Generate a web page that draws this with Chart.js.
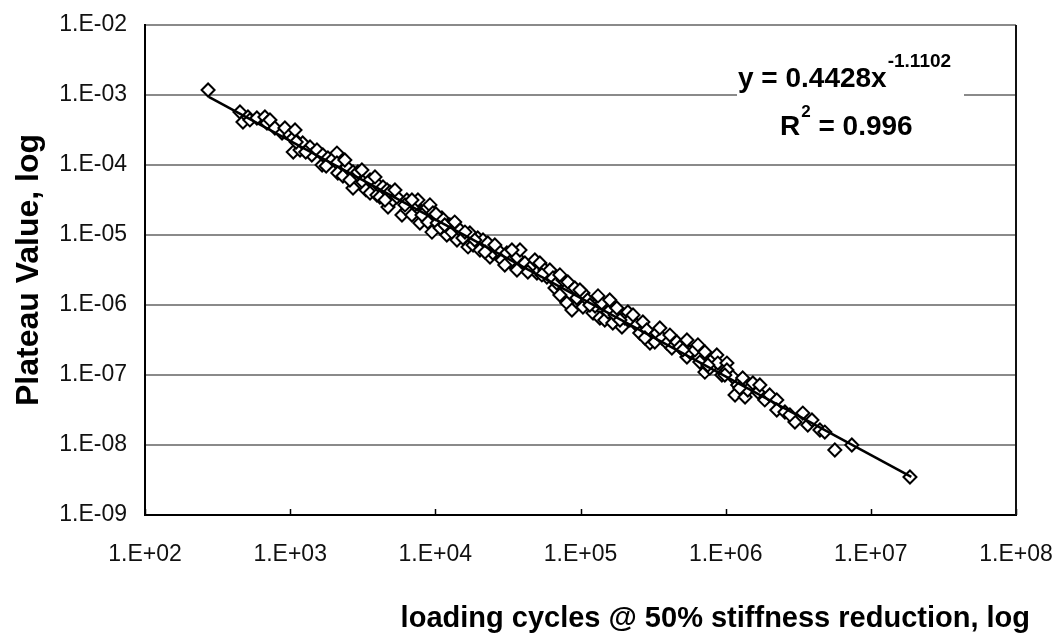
<!DOCTYPE html>
<html>
<head>
<meta charset="utf-8">
<script src="https://cdn.jsdelivr.net/npm/chart.js@4.4.1/dist/chart.umd.min.js"></script>
<style>
  html, body { margin: 0; padding: 0; background: #fff; }
  #wrap { width: 1062px; height: 642px; position: relative; }
</style>
</head>
<body>
<div id="wrap"><canvas id="c" width="1062" height="642"></canvas></div>
<script>
// ---- data ----
const cycles = [
  272, 451, 473, 512, 528, 590, 670, 692, 726, 785, 879, 920, 997, 1050, 1050, 1080,
  1170, 1220, 1370, 1410, 1530, 1660, 1680, 1820, 1940, 2100, 2100, 2130, 2310, 2460,
  2710, 2710, 2930, 3120, 3170, 3330, 3550, 3550, 3960, 4030, 4150, 4360, 4650, 4720,
  4870, 5110, 5440, 5890, 6370, 6370, 6900, 7240, 7590, 7830, 8480, 8890, 9180, 9480,
  9620, 1.03e4, 1.08e4, 1.11e4, 1.20e4, 1.26e4, 1.30e4, 1.41e4, 1.48e4, 1.55e4, 1.68e4,
  1.73e4, 1.82e4, 1.96e4, 2.03e4, 2.13e4, 2.30e4, 2.38e4, 2.49e4, 2.70e4, 2.88e4, 3.11e4,
  3.27e4, 3.65e4, 3.65e4, 3.83e4, 4.14e4, 4.49e4, 4.85e4, 5.01e4, 5.25e4, 5.69e4, 5.87e4,
  6.15e4, 6.46e4, 6.67e4, 6.87e4, 7.21e4, 7.57e4, 8.05e4, 8.18e4, 8.73e4, 9.14e4, 9.44e4,
  1.04e5, 1.04e5, 1.12e5, 1.22e5, 1.26e5, 1.36e5, 1.40e5, 1.47e5, 1.55e5, 1.67e5, 1.73e5,
  1.78e5, 1.93e5, 2.02e5, 2.12e5, 2.19e5, 2.44e5, 2.56e5, 2.69e5, 2.86e5, 3.01e5, 3.25e5,
  3.36e5, 3.64e5, 3.94e5, 4.26e5, 4.61e5, 4.84e5, 5.41e5, 5.41e5, 5.66e5, 6.14e5, 6.64e5,
  7.19e5, 7.19e5, 7.78e5, 8.04e5, 8.69e5, 8.83e5, 9.42e5, 1.02e6, 1.02e6, 1.12e6, 1.16e6,
  1.21e6, 1.31e6, 1.36e6, 1.42e6, 1.54e6, 1.67e6, 1.86e6, 2.01e6, 2.25e6, 2.25e6, 2.56e6,
  3.00e6, 3.40e6, 3.68e6, 3.93e6, 4.46e6, 5.65e6, 7.40e6, 1.86e7,
  1.10e3, 1.28e3, 1.77e3, 2.38e3, 2.58e3, 3.84e3, 4.50e3, 5.27e3, 6.18e3, 6.90e3,
  8.09e3, 1.01e4, 1.16e4, 1.36e4, 1.60e4, 1.87e4, 2.20e4, 2.57e4, 3.01e4, 3.37e4,
  4.34e4, 5.42e4, 7.21e4, 9.91e4, 1.16e5, 1.32e5, 1.59e5, 1.87e5, 2.30e5, 2.78e5,
  3.52e5, 4.13e5, 5.07e5, 6.44e5, 7.54e5, 9.87e5, 1.25e6, 1.72e6, 2.77e6, 4.82e6
];
const plateau = [
  1.18e-3, 5.71e-4, 4.11e-4, 4.85e-4, 4.40e-4, 4.69e-4, 4.85e-4, 3.98e-4, 4.40e-4, 3.38e-4, 2.86e-4, 3.38e-4, 2.69e-4, 2.43e-4, 1.53e-4, 3.16e-4,
  1.64e-4, 2.06e-4, 1.81e-4, 1.39e-4, 1.64e-4, 1.00e-4, 1.39e-4, 1.26e-4, 1.18e-4, 1.48e-4, 1.07e-4, 7.69e-5, 6.97e-5, 9.35e-5,
  7.94e-5, 4.69e-5, 7.94e-5, 8.49e-5, 5.71e-5, 4.40e-5, 3.98e-5, 6.11e-5, 3.72e-5, 5.18e-5, 3.49e-5, 4.85e-5, 4.40e-5, 2.51e-5,
  4.11e-5, 3.16e-5, 3.49e-5, 1.93e-5, 3.16e-5, 2.28e-5, 1.93e-5, 2.69e-5, 3.16e-5, 1.48e-5, 2.28e-5, 1.53e-5, 2.69e-5, 1.10e-5,
  2.06e-5, 1.48e-5, 1.26e-5, 1.75e-5, 1.00e-5, 1.39e-5, 1.10e-5, 8.49e-6, 1.18e-5, 9.06e-6, 6.75e-6,
  1.07e-5, 7.19e-6, 9.06e-6, 6.11e-6, 8.49e-6, 7.69e-6, 4.85e-6, 5.53e-6, 6.11e-6, 4.40e-6, 5.53e-6,
  4.11e-6, 4.85e-6, 3.16e-6, 6.11e-6, 3.98e-6, 3.38e-6, 4.40e-6, 2.86e-6, 3.98e-6, 3.16e-6, 2.51e-6,
  3.16e-6, 2.43e-6, 1.75e-6, 2.06e-6, 1.39e-6, 2.28e-6, 1.07e-6, 2.13e-6, 8.49e-7, 1.75e-6, 1.26e-6,
  1.48e-6, 9.35e-7, 1.18e-6, 7.69e-7, 9.68e-7, 6.52e-7, 1.07e-6, 6.11e-7, 7.94e-7, 5.53e-7, 7.19e-7,
  9.06e-7, 4.85e-7, 6.52e-7, 7.94e-7, 6.11e-7, 5.18e-7, 3.98e-7, 5.71e-7, 4.40e-7, 2.86e-7, 2.96e-7,
  3.98e-7, 3.38e-7, 2.86e-7, 2.43e-7, 2.96e-7, 2.51e-7, 3.16e-7, 1.81e-7, 2.13e-7, 2.28e-7, 1.53e-7,
  2.13e-7, 1.10e-7, 1.26e-7, 1.64e-7, 1.93e-7, 1.48e-7, 1.00e-7, 1.48e-7, 1.18e-7, 9.35e-8, 5.18e-8,
  7.19e-8, 9.06e-8, 4.85e-8, 6.11e-8, 7.69e-8, 5.71e-8, 4.40e-8, 5.18e-8, 4.40e-8, 3.16e-8, 2.96e-8,
  2.13e-8, 2.86e-8, 1.93e-8, 2.28e-8, 1.64e-8, 8.49e-9, 1.00e-8, 3.49e-9,
  2.13e-4, 1.53e-4, 9.68e-5, 1.18e-4, 6.11e-5, 6.75e-5, 3.16e-5, 4.40e-5, 2.69e-5, 3.16e-5,
  1.93e-5, 2.00e-5, 1.39e-5, 1.53e-5, 1.10e-5, 8.49e-6, 5.71e-6, 7.19e-6, 3.72e-6, 6.11e-6,
  2.96e-6, 2.69e-6, 2.69e-6, 1.64e-6, 1.00e-6, 1.35e-6, 1.18e-6, 6.11e-7, 7.19e-7, 3.38e-7,
  4.69e-7, 3.72e-7, 2.28e-7, 2.69e-7, 1.39e-7, 1.00e-7, 6.52e-8, 7.19e-8, 2.69e-8, 1.53e-8
];
// trend line end points
const trendX = [275, 1.9e7];
const trendY = [9.4e-4, 3.5e-9];

const xTickValues = [1e2, 1e3, 1e4, 1e5, 1e6, 1e7, 1e8];
const xTickLabels = ['1.E+02', '1.E+03', '1.E+04', '1.E+05', '1.E+06', '1.E+07', '1.E+08'];
const yTickValues = [1e-9, 1e-8, 1e-7, 1e-6, 1e-5, 1e-4, 1e-3, 1e-2];
const yTickLabels = ['1.E-09', '1.E-08', '1.E-07', '1.E-06', '1.E-05', '1.E-04', '1.E-03', '1.E-02'];

const eqMain = 'y = 0.4428x';
const eqExp = '-1.1102';
const r2Text = ['R', '2', ' = 0.996'];
const xTitle = 'loading cycles @ 50% stiffness reduction, log';
const yTitle = 'Plateau Value, log';

// ---- chart ----
const FONT = "'Liberation Sans', Arial, Helvetica, sans-serif";

const points = cycles.map((x, i) => ({ x: x, y: plateau[i] }));
const trend = trendX.map((x, i) => ({ x: x, y: trendY[i] }));

const extras = {
  id: 'extras',
  afterDatasetsDraw(chart) {
    const ctx = chart.ctx;
    const ca = chart.chartArea;
    const xs = chart.scales.x;
    ctx.save();
    // inner tick marks on x axis
    ctx.strokeStyle = '#000';
    ctx.lineWidth = 1.5;
    xTickValues.forEach(v => {
      const px = Math.round(xs.getPixelForValue(v)) + 0.5;
      ctx.beginPath();
      ctx.moveTo(px, ca.bottom);
      ctx.lineTo(px, ca.bottom - 6);
      ctx.stroke();
    });
    // right border
    ctx.strokeStyle = '#111';
    ctx.lineWidth = 2;
    ctx.beginPath();
    ctx.moveTo(ca.right, ca.top);
    ctx.lineTo(ca.right, ca.bottom);
    ctx.stroke();
    ctx.restore();
  },
  afterDraw(chart) {
    const ctx = chart.ctx;
    ctx.save();
    // equation box
    ctx.fillStyle = '#fff';
    ctx.fillRect(737, 56, 227, 86);
    ctx.fillStyle = '#000';
    ctx.textBaseline = 'alphabetic';
    ctx.textAlign = 'left';
    ctx.font = 'bold 28px ' + FONT;
    ctx.fillText(eqMain, 738, 87);
    const w1 = ctx.measureText(eqMain).width;
    ctx.font = 'bold 19px ' + FONT;
    ctx.fillText(eqExp, 738 + w1 + 1, 67);
    // R^2
    ctx.font = 'bold 28px ' + FONT;
    let x = 780;
    ctx.fillText(r2Text[0], x, 135);
    x += ctx.measureText(r2Text[0]).width;
    ctx.font = 'bold 17px ' + FONT;
    ctx.fillText(r2Text[1], x + 1, 117);
    x += ctx.measureText(r2Text[1]).width + 1;
    ctx.font = 'bold 28px ' + FONT;
    ctx.fillText(r2Text[2], x, 135);
    // x axis title
    ctx.font = 'bold 29px ' + FONT;
    ctx.textAlign = 'right';
    ctx.fillText(xTitle, 1030, 627);
    ctx.restore();
  }
};

new Chart(document.getElementById('c'), {
  type: 'scatter',
  data: {
    datasets: [
      {
        label: 'trend',
        data: trend,
        showLine: true,
        borderColor: '#000',
        borderWidth: 2.5,
        pointRadius: 0,
        fill: false
      },
      {
        label: 'Plateau Value',
        data: points,
        pointStyle: 'rectRot',
        pointRadius: 6.5,
        pointBorderWidth: 2,
        pointBorderColor: '#000',
        pointBackgroundColor: '#fff',
        showLine: false
      }
    ]
  },
  options: {
    responsive: false,
    animation: false,
    devicePixelRatio: 1,
    layout: { padding: { top: 25, right: 46, left: 0, bottom: 0 } },
    plugins: {
      legend: { display: false },
      tooltip: { enabled: false }
    },
    scales: {
      x: {
        type: 'logarithmic',
        min: 1e2,
        max: 1e8,
        afterBuildTicks(scale) { scale.ticks = xTickValues.map(v => ({ value: v, major: true })); },
        afterFit(scale) { scale.height = 127; scale.paddingLeft = 0; scale.paddingRight = 0; },
        grid: { display: true, drawOnChartArea: false, drawTicks: false },
        border: { display: true, color: '#000', width: 2 },
        ticks: {
          autoSkip: false,
          maxRotation: 0,
          padding: 26,
          color: '#111',
          font: { family: FONT, size: 23 },
          callback(value) {
            const i = xTickValues.findIndex(v => Math.abs(Math.log10(v) - Math.log10(value)) < 1e-6);
            return i >= 0 ? xTickLabels[i] : '';
          }
        }
      },
      y: {
        type: 'logarithmic',
        min: 1e-9,
        max: 1e-2,
        afterBuildTicks(scale) { scale.ticks = yTickValues.map(v => ({ value: v, major: true })); },
        afterFit(scale) { scale.width = 145; scale.paddingTop = 0; scale.paddingBottom = 0; },
        grid: { color: '#8a8a8a', lineWidth: 2, drawTicks: false },
        border: { display: true, color: '#000', width: 2 },
        title: {
          display: true,
          text: yTitle,
          color: '#000',
          font: { family: FONT, size: 32, weight: 'bold' },
          padding: { top: 10, bottom: 0 }
        },
        ticks: {
          autoSkip: false,
          padding: 18,
          color: '#111',
          font: { family: FONT, size: 23 },
          callback(value) {
            const i = yTickValues.findIndex(v => Math.abs(Math.log10(v) - Math.log10(value)) < 1e-6);
            return i >= 0 ? yTickLabels[i] : '';
          }
        }
      }
    }
  },
  plugins: [extras]
});
</script>
</body>
</html>
